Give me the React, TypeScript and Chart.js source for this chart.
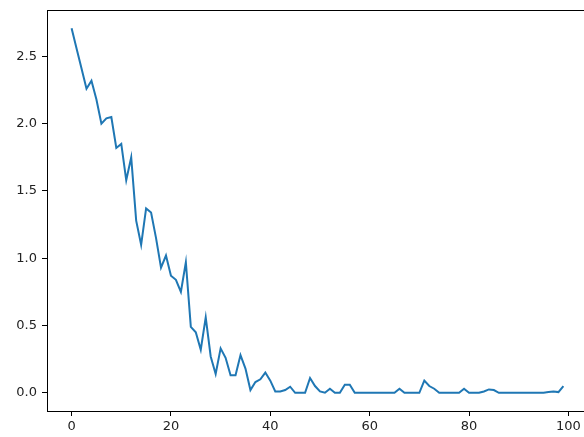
import React, { useEffect, useRef } from "react";
import { Chart, registerables } from "chart.js";

Chart.register(...registerables);

const values: number[] = [
  2.71, 2.56, 2.41, 2.26, 2.32, 2.18, 2.0, 2.04, 2.05, 1.82,
  1.85, 1.58, 1.75, 1.28, 1.1, 1.37, 1.34, 1.15, 0.93, 1.02,
  0.87, 0.84, 0.75, 0.97, 0.49, 0.45, 0.32, 0.56, 0.27, 0.14,
  0.33, 0.26, 0.13, 0.13, 0.28, 0.18, 0.02, 0.08, 0.1, 0.15,
  0.09, 0.01, 0.01, 0.02, 0.045, 0.0, 0.0, 0.0, 0.11, 0.05,
  0.01, 0.0, 0.03, 0.0, 0.0, 0.06, 0.06, 0.0, 0.0, 0.0,
  0.0, 0.0, 0.0, 0.0, 0.0, 0.0, 0.03, 0.0, 0.0, 0.0,
  0.0, 0.09, 0.05, 0.03, 0.0, 0.0, 0.0, 0.0, 0.0, 0.03,
  0.0, 0.0, 0.0, 0.01, 0.025, 0.02, 0.0, 0.0, 0.0, 0.0,
  0.0, 0.0, 0.0, 0.0, 0.0, 0.0, 0.005, 0.01, 0.005, 0.05,
];

const xTicks: number[] = [0, 20, 40, 60, 80, 100];
const yTicks: number[] = [0, 0.5, 1.0, 1.5, 2.0, 2.5];

const framePlugin = {
  id: "frame",
  afterDraw(chart: any) {
    const { ctx, chartArea } = chart;
    ctx.save();
    ctx.strokeStyle = "#000";
    ctx.lineWidth = 1;
    const top = Math.round(chartArea.top) + 0.5;
    const left = Math.round(chartArea.left);
    const right = Math.round(chartArea.right) + 1;
    const bottom = Math.round(chartArea.bottom);
    ctx.beginPath();
    ctx.moveTo(left, top);
    ctx.lineTo(right, top);
    ctx.moveTo(right - 0.5, top);
    ctx.lineTo(right - 0.5, bottom);
    ctx.stroke();
    ctx.restore();
  },
};

export default function App() {
  const ref = useRef<HTMLCanvasElement | null>(null);

  useEffect(() => {
    document.body.style.margin = "0";
    if (!ref.current) return;
    const n = values.length;
    const xMin = 0;
    const xMax = n - 1;
    const xPad = (xMax - xMin) * 0.05;
    const yMinD = Math.min(...values);
    const yMaxD = Math.max(...values);
    const yPad = (yMaxD - yMinD) * 0.05;
    const points = values.map((v, i) => ({ x: i, y: v }));
    const font = { family: "DejaVu Sans", size: 13 };

    const chart = new Chart(ref.current, {
      type: "line",
      data: {
        datasets: [
          {
            data: points,
            borderColor: "#1f77b4",
            borderWidth: 2,
            pointRadius: 0,
            tension: 0,
            fill: false,
          },
        ],
      },
      options: {
        animation: false,
        responsive: false,
        maintainAspectRatio: false,
        layout: { padding: { top: 10, right: 12, left: 0, bottom: 0 } },
        plugins: {
          legend: { display: false },
          tooltip: { enabled: false },
        },
        scales: {
          x: {
            type: "linear",
            min: xMin - xPad,
            max: xMax + xPad,
            afterBuildTicks: (scale: any) => {
              scale.ticks = xTicks.map((v) => ({ value: v }));
            },
            afterFit: (scale: any) => {
              scale.height = 26;
              scale.paddingLeft = 0;
              scale.paddingRight = 0;
            },
            grid: {
              drawOnChartArea: false,
              drawTicks: true,
              tickLength: 5,
              tickColor: "#000",
              tickWidth: 1,
            },
            border: { display: true, color: "#000", width: 1 },
            ticks: {
              color: "#222",
              font,
              padding: 3,
              maxRotation: 0,
              autoSkip: false,
              callback: (v: any) => String(v),
            },
          },
          y: {
            type: "linear",
            min: yMinD - yPad,
            max: yMaxD + yPad,
            afterBuildTicks: (scale: any) => {
              scale.ticks = yTicks.map((v) => ({ value: v }));
            },
            afterFit: (scale: any) => {
              scale.width = 47;
              scale.paddingTop = 0;
              scale.paddingBottom = 0;
            },
            grid: {
              drawOnChartArea: false,
              drawTicks: true,
              tickLength: 5,
              tickColor: "#000",
              tickWidth: 1,
            },
            border: { display: true, color: "#000", width: 1 },
            ticks: {
              color: "#222",
              font,
              padding: 5,
              autoSkip: false,
              callback: (v: any) => Number(v).toFixed(1),
            },
          },
        },
      },
      plugins: [framePlugin],
    });
    return () => chart.destroy();
  }, []);

  return (
    <div style={{ width: 584, height: 437, overflow: "hidden", position: "relative", background: "#fff" }}>
      <canvas ref={ref} width={600} height={437} style={{ display: "block" }} />
    </div>
  );
}
